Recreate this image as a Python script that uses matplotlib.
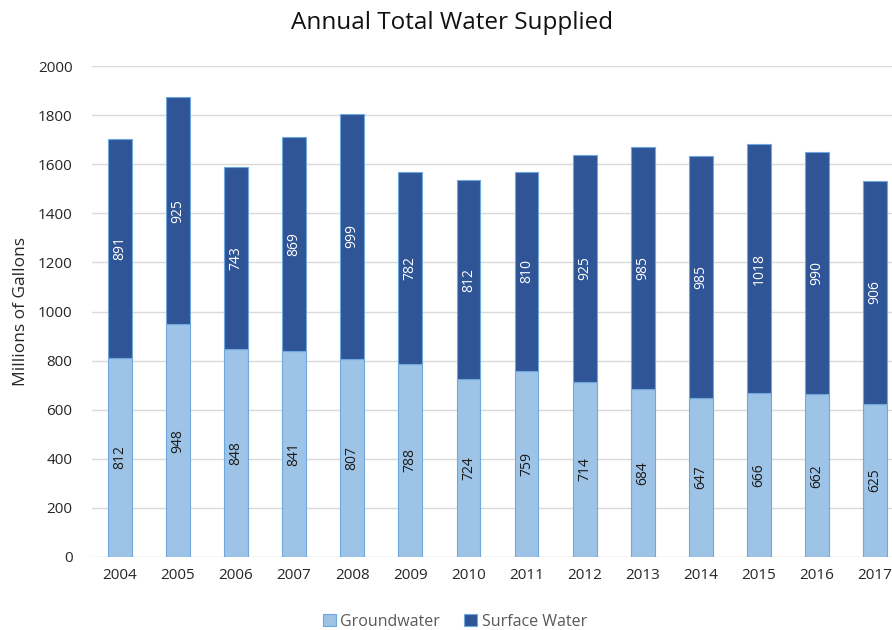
import numpy as np
import matplotlib.pyplot as plt
import matplotlib as mpl
mpl.rcParams['figure.dpi'] = 100
plt.rcParams['font.family'] = ['Open Sans', 'DejaVu Sans']

years = ['2004', '2005', '2006', '2007', '2008', '2009', '2010',
         '2011', '2012', '2013', '2014', '2015', '2016', '2017']
groundwater = [812, 948, 848, 841, 807, 788, 724, 759, 714, 684, 647, 666, 662, 625]
surface = [891, 925, 743, 869, 999, 782, 812, 810, 925, 985, 985, 1018, 990, 906]

light = '#9DC3E6'
dark = '#2F5597'
edge = '#6FA8DC'
text_col = '#262626'

fig = plt.figure(figsize=(8.92, 6.3))
ax = fig.add_axes([0.103, 0.116, 0.912, 0.779])

x = np.arange(len(years))
w = 0.41
b1 = ax.bar(x, groundwater, w, color=light, edgecolor=edge, linewidth=0.8,
            label='Groundwater', zorder=3)
b2 = ax.bar(x, surface, w, bottom=groundwater, color=dark, edgecolor=edge,
            linewidth=0.8, label='Surface Water', zorder=3)

for i in range(len(years)):
    ax.text(x[i], groundwater[i] / 2, str(groundwater[i]), rotation=90,
            ha='center', va='center', fontsize=10, color='#1a1a1a', zorder=4)
    ax.text(x[i], groundwater[i] + surface[i] / 2, str(surface[i]), rotation=90,
            ha='center', va='center', fontsize=10, color='white', zorder=4)

ax.set_xlim(-0.48, 13.52)
ax.set_ylim(0, 2000)
ax.set_yticks(range(0, 2001, 200))
ax.set_xticks(x)
ax.set_xticklabels(years)
ax.grid(axis='y', color='#D9D9D9', linewidth=1, zorder=0)
for s in ax.spines.values():
    s.set_visible(False)
ax.tick_params(length=0, labelsize=11, colors=text_col, pad=8)
ax.tick_params(axis='y', pad=14)
ax.set_ylabel('Millions of Gallons', fontsize=12.5, color=text_col, labelpad=6)

fig.text(0.507, 0.963, 'Annual Total Water Supplied', ha='center', va='center',
         fontsize=17.5, color='#111111')

leg = fig.legend(handles=[b1, b2], loc='center', bbox_to_anchor=(0.51, 0.013),
                 ncol=2, frameon=False, fontsize=11.5, handlelength=0.8,
                 handleheight=0.8, handletextpad=0.3, columnspacing=1.5)
for t in leg.get_texts():
    t.set_color('#595959')

fig.savefig('out.png', dpi=100)
